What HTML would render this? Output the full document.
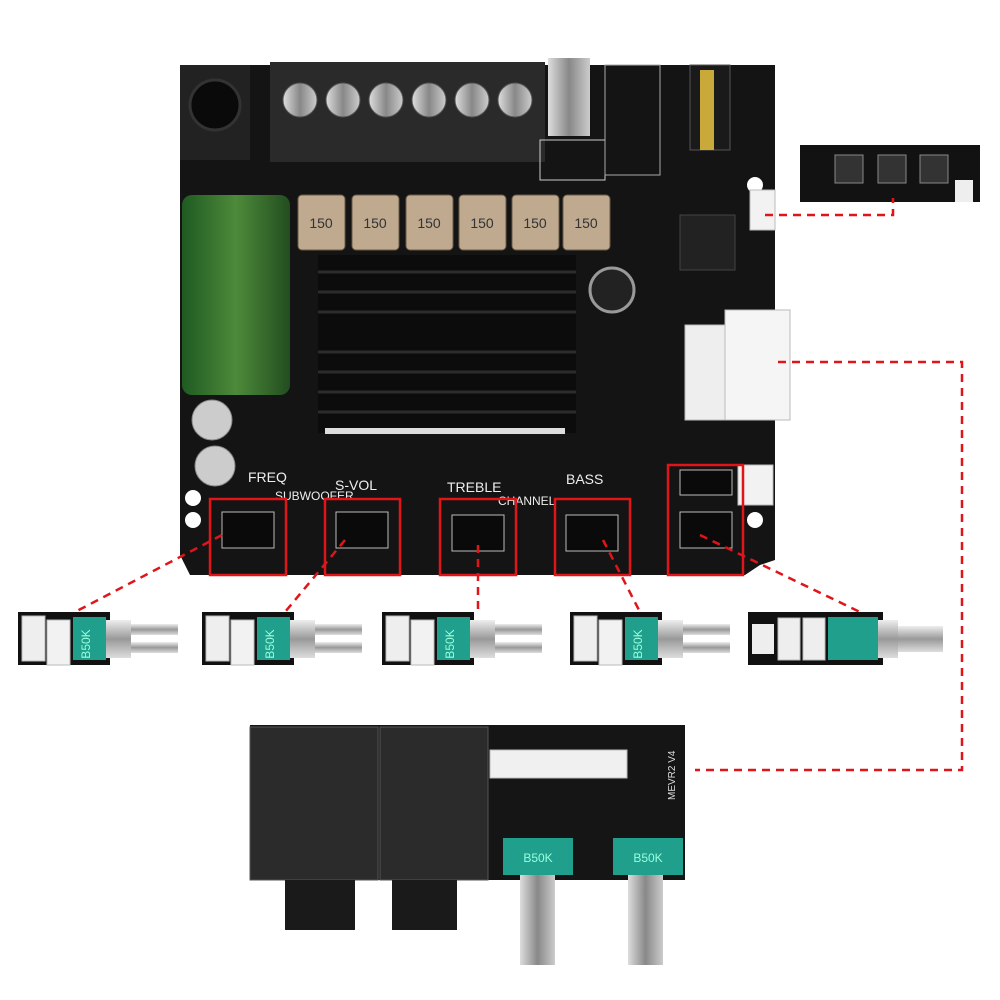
<!DOCTYPE html>
<html><head><meta charset="utf-8"><style>
html,body{margin:0;padding:0;background:#fff;}
svg{display:block}
text{font-family:"Liberation Sans",sans-serif;}
</style></head><body>
<svg width="1000" height="1000" viewBox="0 0 1000 1000" xmlns="http://www.w3.org/2000/svg">
<defs>
<linearGradient id="sil" x1="0" y1="0" x2="0" y2="1"><stop offset="0" stop-color="#eee"/><stop offset="0.5" stop-color="#999"/><stop offset="1" stop-color="#ddd"/></linearGradient>
<linearGradient id="silv" x1="0" y1="0" x2="1" y2="0"><stop offset="0" stop-color="#ddd"/><stop offset="0.5" stop-color="#888"/><stop offset="1" stop-color="#ccc"/></linearGradient>
<linearGradient id="grn" x1="0" y1="0" x2="1" y2="0"><stop offset="0" stop-color="#1f5a22"/><stop offset="0.5" stop-color="#4d8a3a"/><stop offset="1" stop-color="#234d1f"/></linearGradient>
<g id="pot">
<rect x="0" y="0" width="92" height="53" fill="#111"/>
<rect x="4" y="4" width="23" height="45" fill="#eee" stroke="#bbb"/>
<rect x="29" y="8" width="23" height="45" fill="#f2f2f2" stroke="#bbb"/>
<rect x="55" y="5" width="33" height="43" fill="#1f9f8c"/>
<text x="72" y="32" font-size="12" fill="#9fd" transform="rotate(-90 72 32)" text-anchor="middle">B50K</text>
<rect x="88" y="8" width="25" height="38" fill="url(#sil)"/>
<rect x="113" y="12" width="47" height="11" fill="url(#sil)"/>
<rect x="113" y="30" width="47" height="11" fill="url(#sil)"/>
</g>
</defs>

<!-- main board -->
<path d="M180 65 H775 V560 L760 565 L745 575 H190 L180 555 Z" fill="#141414"/>
<circle cx="193" cy="498" r="8" fill="#fff"/><circle cx="193" cy="520" r="8" fill="#fff"/>
<circle cx="755" cy="185" r="8" fill="#fff"/><circle cx="755" cy="520" r="8" fill="#fff"/>
<!-- DC jack -->
<rect x="180" y="65" width="70" height="95" fill="#222"/>
<circle cx="215" cy="105" r="25" fill="#0a0a0a" stroke="#333" stroke-width="3"/>
<!-- terminal block -->
<rect x="270" y="62" width="275" height="100" fill="#2a2a2a"/>
<g fill="url(#silv)" stroke="#555">
<circle cx="300" cy="100" r="17"/><circle cx="343" cy="100" r="17"/><circle cx="386" cy="100" r="17"/>
<circle cx="429" cy="100" r="17"/><circle cx="472" cy="100" r="17"/><circle cx="515" cy="100" r="17"/>
</g>
<!-- USB -->
<rect x="548" y="58" width="42" height="78" fill="url(#silv)"/>
<rect x="540" y="140" width="65" height="40" fill="none" stroke="#ccc"/>
<rect x="605" y="65" width="55" height="110" fill="none" stroke="#aaa"/>
<!-- audio jack -->
<rect x="690" y="65" width="40" height="85" fill="#1a1a1a" stroke="#555"/>
<rect x="700" y="70" width="14" height="80" fill="#c9a93a"/>
<!-- inductors -->
<g fill="#bfaa90" stroke="#6a5a48">
<rect x="298" y="195" width="47" height="55" rx="4"/><rect x="352" y="195" width="47" height="55" rx="4"/>
<rect x="406" y="195" width="47" height="55" rx="4"/><rect x="459" y="195" width="47" height="55" rx="4"/>
<rect x="512" y="195" width="47" height="55" rx="4"/><rect x="563" y="195" width="47" height="55" rx="4"/>
</g>
<g font-size="14" fill="#333" text-anchor="middle">
<text x="321" y="228">150</text><text x="375" y="228">150</text><text x="429" y="228">150</text>
<text x="482" y="228">150</text><text x="535" y="228">150</text><text x="586" y="228">150</text>
</g>
<!-- green cap -->
<rect x="182" y="195" width="108" height="200" rx="10" fill="url(#grn)"/>
<!-- heatsink -->
<rect x="318" y="255" width="258" height="178" fill="#0c0c0c"/>
<g stroke="#2c2c2c" stroke-width="3">
<line x1="318" y1="272" x2="576" y2="272"/><line x1="318" y1="292" x2="576" y2="292"/><line x1="318" y1="312" x2="576" y2="312"/>
<line x1="318" y1="352" x2="576" y2="352"/><line x1="318" y1="372" x2="576" y2="372"/><line x1="318" y1="392" x2="576" y2="392"/><line x1="318" y1="412" x2="576" y2="412"/>
</g>
<rect x="325" y="428" width="240" height="6" fill="#ddd"/>
<!-- caps -->
<circle cx="612" cy="290" r="22" fill="#222" stroke="#999" stroke-width="3"/>
<circle cx="212" cy="420" r="20" fill="#ccc" stroke="#888"/>
<circle cx="215" cy="466" r="20" fill="#ccc" stroke="#888"/>
<rect x="680" y="215" width="55" height="55" fill="#222" stroke="#444"/>
<!-- connectors -->
<rect x="750" y="190" width="25" height="40" fill="#f2f2f2" stroke="#bbb"/>
<rect x="685" y="325" width="40" height="95" fill="#eee" stroke="#bbb"/>
<rect x="725" y="310" width="65" height="110" fill="#f5f5f5" stroke="#bbb"/>
<rect x="738" y="465" width="35" height="40" fill="#f2f2f2" stroke="#bbb"/>
<!-- labels -->
<g font-size="14" fill="#eee">
<text x="248" y="482">FREQ</text><text x="335" y="490">S-VOL</text>
<text x="275" y="500" font-size="12">SUBWOOFER</text><text x="447" y="492">TREBLE</text>
<text x="566" y="484">BASS</text><text x="498" y="505" font-size="12">CHANNEL</text>
</g>
<!-- header pins -->
<g fill="#0a0a0a" stroke="#bbb">
<rect x="222" y="512" width="52" height="36"/><rect x="336" y="512" width="52" height="36"/>
<rect x="452" y="515" width="52" height="36"/><rect x="566" y="515" width="52" height="36"/>
<rect x="680" y="470" width="52" height="25"/><rect x="680" y="512" width="52" height="36"/>
</g>
<!-- red boxes -->
<g fill="none" stroke="#e0151a" stroke-width="2.5">
<rect x="210" y="499" width="76" height="76"/><rect x="325" y="499" width="75" height="76"/>
<rect x="440" y="499" width="76" height="76"/><rect x="555" y="499" width="75" height="76"/>
<rect x="668" y="465" width="75" height="110"/>
</g>
<!-- right small board -->
<rect x="800" y="145" width="180" height="57" fill="#121212"/>
<g fill="#333" stroke="#888"><rect x="835" y="155" width="28" height="28"/><rect x="878" y="155" width="28" height="28"/><rect x="920" y="155" width="28" height="28"/></g>
<rect x="955" y="180" width="18" height="22" fill="#eee"/>
<!-- dashed lines -->
<g fill="none" stroke="#e0151a" stroke-width="2.5" stroke-dasharray="8,6">
<line x1="222" y1="535" x2="75" y2="612"/><line x1="345" y1="540" x2="285" y2="612"/>
<line x1="478" y1="545" x2="478" y2="612"/><line x1="603" y1="540" x2="640" y2="612"/>
<line x1="700" y1="535" x2="860" y2="612"/>
<polyline points="765,215 893,215 893,198"/>
<polyline points="778,362 962,362 962,770 695,770"/>
</g>
<!-- pot modules -->
<use href="#pot" x="18" y="612"/>
<use href="#pot" x="202" y="612"/>
<use href="#pot" x="382" y="612"/>
<use href="#pot" x="570" y="612"/>
<g transform="translate(748,612)">
<rect x="0" y="0" width="135" height="53" fill="#111"/>
<rect x="4" y="12" width="22" height="30" fill="#eee"/>
<rect x="30" y="6" width="22" height="42" fill="#eee" stroke="#bbb"/>
<rect x="55" y="6" width="22" height="42" fill="#eee" stroke="#bbb"/>
<rect x="80" y="5" width="50" height="43" fill="#1f9f8c"/>
<rect x="130" y="8" width="20" height="38" fill="url(#sil)"/>
<rect x="150" y="14" width="45" height="26" fill="url(#sil)"/>
</g>
<!-- bottom board -->
<rect x="250" y="725" width="435" height="155" fill="#151515"/>
<rect x="250" y="727" width="128" height="153" fill="#2b2b2b" stroke="#555"/>
<rect x="380" y="727" width="108" height="153" fill="#2b2b2b" stroke="#555"/>
<rect x="285" y="880" width="70" height="50" fill="#1a1a1a"/>
<rect x="392" y="880" width="65" height="50" fill="#1a1a1a"/>
<rect x="490" y="750" width="137" height="28" fill="#f0f0f0" stroke="#bbb"/>
<rect x="503" y="838" width="70" height="37" fill="#1f9f8c"/><text x="538" y="862" font-size="12" fill="#9fd" text-anchor="middle">B50K</text>
<rect x="613" y="838" width="70" height="37" fill="#1f9f8c"/><text x="648" y="862" font-size="12" fill="#9fd" text-anchor="middle">B50K</text>
<rect x="520" y="875" width="35" height="90" fill="url(#silv)"/>
<rect x="628" y="875" width="35" height="90" fill="url(#silv)"/>
<text x="675" y="800" font-size="10" fill="#ddd" transform="rotate(-90 675 800)">MEVR2 V4</text>
</svg>
</body></html>
